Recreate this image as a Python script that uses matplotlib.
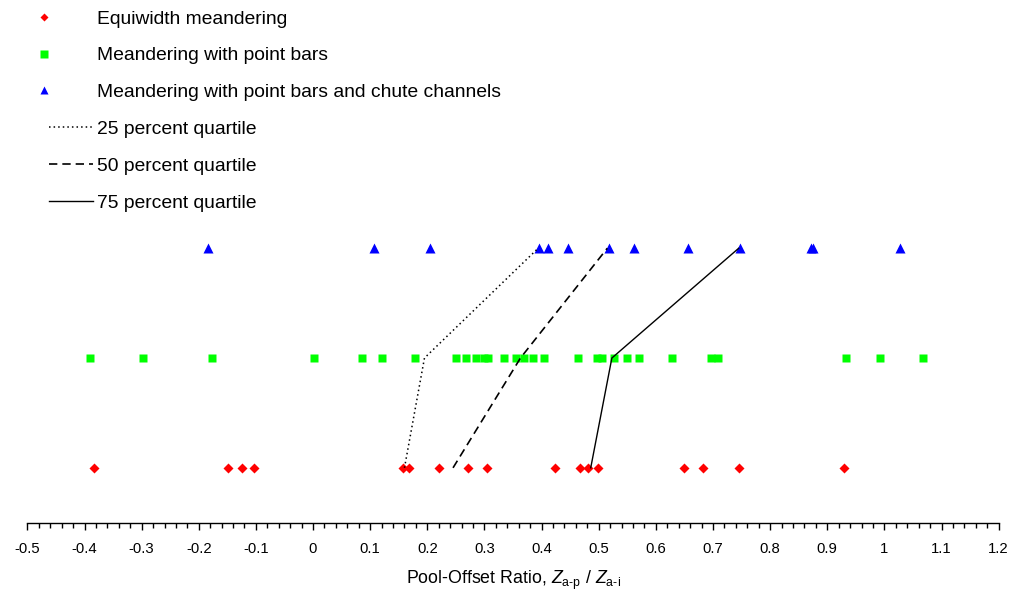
import numpy as np
import matplotlib
matplotlib.use("Agg")
import matplotlib.pyplot as plt
from matplotlib.legend_handler import HandlerLine2D
from matplotlib.ticker import MultipleLocator, FuncFormatter

# pool-offset ratios, one list per channel type
equiwidth = [-0.384, -0.149, -0.124, -0.103, 0.157, 0.168, 0.220, 0.271, 0.304,
             0.424, 0.468, 0.482, 0.499, 0.649, 0.682, 0.745, 0.930]
point_bars = [-0.390, -0.297, -0.176, 0.002, 0.086, 0.121, 0.178, 0.251, 0.268,
              0.285, 0.300, 0.306, 0.335, 0.356, 0.370, 0.385, 0.404, 0.464,
              0.497, 0.505, 0.527, 0.549, 0.571, 0.628, 0.697, 0.709, 0.933,
              0.992, 1.068]
chute = [-0.184, 0.107, 0.205, 0.395, 0.412, 0.447, 0.518, 0.562, 0.656,
         0.748, 0.871, 0.875, 1.028]

# quartiles per row (equiwidth, point bars, chute channels)
row_level = [1, 2, 3]
q25 = [0.160, 0.195, 0.394]
q50 = [0.245, 0.363, 0.515]
q75 = [0.486, 0.523, 0.745]

labels = ["Equiwidth meandering", "Meandering with point bars",
          "Meandering with point bars and chute channels",
          "25 percent quartile", "50 percent quartile", "75 percent quartile"]

plt.rcParams["font.family"] = ["Liberation Sans", "DejaVu Sans"]
plt.rcParams["mathtext.fontset"] = "custom"
plt.rcParams["mathtext.rm"] = "Liberation Sans"
plt.rcParams["mathtext.it"] = "Liberation Sans:italic"
plt.rcParams["axes.unicode_minus"] = False


class LeftMarker(HandlerLine2D):
    # single marker placed just left of the handle box, like the original legend
    def get_xdata(self, legend, xdescent, ydescent, width, height, fontsize):
        x = -xdescent - 0.27 * fontsize
        return [x, x], [x]


fig = plt.figure(figsize=(10.18, 5.91), dpi=100)
ax = fig.add_axes([0.0269, 0.1159, 0.9541, 0.4949])

h1, = ax.plot(equiwidth, [row_level[0]] * len(equiwidth), "D", color="#ff0000",
              ms=5, mec="none", ls="none", label=labels[0])
h2, = ax.plot(point_bars, [row_level[1]] * len(point_bars), "s", color="#00ff00",
              ms=6, mec="none", ls="none", label=labels[1])
h3, = ax.plot(chute, [row_level[2]] * len(chute), "^", color="#0000ff",
              ms=7, mec="none", ls="none", label=labels[2])
l1, = ax.plot(q25, row_level, color="black", lw=1.1, ls=(0, (1, 2)), label=labels[3])
l2, = ax.plot(q50, row_level, color="black", lw=1.2, ls=(0, (5, 3)), label=labels[4])
l3, = ax.plot(q75, row_level, color="black", lw=1.0, ls="-", label=labels[5])

ax.set_xlim(-0.5, 1.2)
ax.set_ylim(0.502, 3.166)
for s in ["top", "left", "right"]:
    ax.spines[s].set_visible(False)
ax.spines["bottom"].set_linewidth(1.0)
ax.set_yticks([])
ax.xaxis.set_major_locator(MultipleLocator(0.1))
ax.xaxis.set_minor_locator(MultipleLocator(0.02))
ax.xaxis.set_major_formatter(FuncFormatter(lambda v, p: "%g" % round(v, 2)))
ax.tick_params(axis="x", which="major", direction="out", length=5, width=1.0,
               pad=9, labelsize=10.7)
ax.tick_params(axis="x", which="minor", direction="out", length=3.5, width=1.0)
ax.set_xlabel(r"Pool-Offset Ratio, $Z_{\mathrm{a}\text{-}\mathrm{p}}$ / $Z_{\mathrm{a}\text{-}\mathrm{i}}$",
              fontsize=12.8, labelpad=9)

fig.legend(handles=[h1, h2, h3, l1, l2, l3], labels=labels,
           loc="upper left", bbox_to_anchor=(49 / 1018, 1 - 10 / 591),
           frameon=False, fontsize=13.9, handlelength=2.3, handletextpad=0.2,
           labelspacing=1.0, borderpad=0, borderaxespad=0, markerscale=0.85,
           handler_map={h1: LeftMarker(), h2: LeftMarker(), h3: LeftMarker()})

fig.savefig("out.png", dpi=100)
